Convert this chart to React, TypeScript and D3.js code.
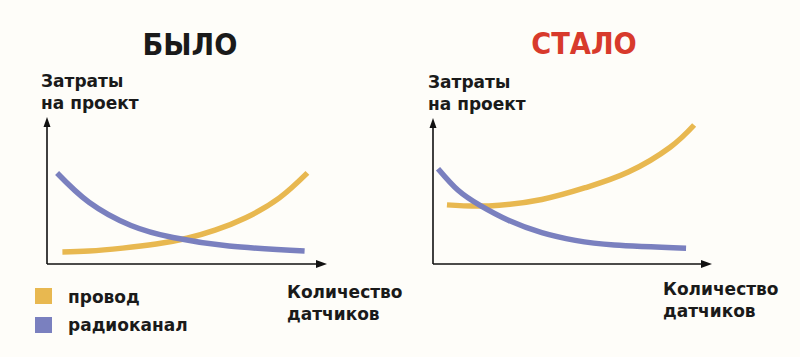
import React from "react";
import * as d3 from "d3";

// ---- data (arbitrary units, x: sensors count 0..10, y: project cost 0..10) ----
const panels = ["БЫЛО", "СТАЛО"];
const titleColors = ["#1a1a1a", "#d83a2c"];
const seriesNames = ["провод", "радиоканал"];
const seriesColors = ["#e8b850", "#7a80bf"];

// "БЫЛО" panel
const beforeWireX = [0.55, 1.5, 2.7, 3.9, 5, 6, 7.1, 8.3, 9.3];
const beforeWireY = [0.82, 0.88, 1.08, 1.36, 1.75, 2.3, 3.15, 4.5, 6.2];
const beforeRadioX = [0.36, 1.5, 3, 4.5, 6.5, 9.2];
const beforeRadioY = [6.19, 4.2, 2.62, 1.8, 1.22, 0.88];

// "СТАЛО" panel
const afterWireX = [0.5, 2.0, 3.9, 5.5, 7.0, 8.5, 9.36];
const afterWireY = [4.05, 3.98, 4.42, 5.25, 6.3, 8.0, 9.52];
const afterRadioX = [0.18, 0.9, 1.7, 2.7, 3.9, 5.1, 6.5, 9.07];
const afterRadioY = [6.53, 5.05, 4.0, 3.0, 2.15, 1.62, 1.3, 1.08];

const yAxisLabel = ["Затраты", "на проект"];
const xAxisLabel = ["Количество", "датчиков"];

const FONT = "'DejaVu Sans', Verdana, sans-serif";

type Pt = [number, number];
const zip = (xs: number[], ys: number[]): Pt[] => xs.map((x, i) => [x, ys[i]]);

const panelData: Pt[][][] = [
  [zip(beforeWireX, beforeWireY), zip(beforeRadioX, beforeRadioY)],
  [zip(afterWireX, afterWireY), zip(afterRadioX, afterRadioY)],
];

const layout = [
  { x0: 47, x1: 327, y0: 264, y1: 117, titleX: 190, titleY: 55, ylabX: 41, ylabY: 87, xlabX: 287, xlabY: 298 },
  { x0: 433, x1: 712, y0: 264, y1: 118, titleX: 584, titleY: 54, ylabX: 428, ylabY: 88, xlabX: 663, xlabY: 295 },
];

function Panel({ idx }: { idx: number }) {
  const L = layout[idx];
  const x = d3.scaleLinear().domain([0, 10]).range([L.x0, L.x1]);
  const y = d3.scaleLinear().domain([0, 10]).range([L.y0, L.y1]);
  const line = d3
    .line<Pt>()
    .x((d) => x(d[0]))
    .y((d) => y(d[1]))
    .curve(d3.curveNatural);
  const [xa, xb] = x.range();
  const [ya, yb] = y.range();
  return (
    <g>
      <g transform={`translate(${L.titleX},${L.titleY}) scale(0.88,1)`}>
        <text x={0} y={0} textAnchor="middle" fontFamily={FONT} fontWeight="bold" fontSize={31} fill={titleColors[idx]}>
          {panels[idx]}
        </text>
      </g>
      {yAxisLabel.map((t, i) => (
        <text key={t} x={L.ylabX} y={L.ylabY + i * 22} fontFamily={FONT} fontWeight="bold" fontSize={17} fill="#1a1a1a">
          {t}
        </text>
      ))}
      {xAxisLabel.map((t, i) => (
        <text key={t} x={L.xlabX} y={L.xlabY + i * 22} fontFamily={FONT} fontWeight="bold" fontSize={17} fill="#1a1a1a">
          {t}
        </text>
      ))}
      {panelData[idx].map((pts, s) => (
        <path key={s} d={line(pts) || ""} fill="none" stroke={seriesColors[s]} strokeWidth={5.5} strokeLinecap="butt" />
      ))}
      <line x1={xa} y1={ya} x2={xa} y2={yb + 8} stroke="#111" strokeWidth={1.6} />
      <line x1={xa} y1={ya} x2={xb - 8} y2={ya} stroke="#111" strokeWidth={1.6} />
      <path d={`M${xa},${yb} L${xa - 3.5},${yb + 10} L${xa + 3.5},${yb + 10} Z`} fill="#111" />
      <path d={`M${xb},${ya} L${xb - 11},${ya - 4} L${xb - 11},${ya + 4} Z`} fill="#111" />
    </g>
  );
}

export default function App() {
  return (
    <svg width={800} height={357} style={{ position: "absolute", left: 0, top: 0, background: "#fefdf9" }}>
      <rect width={800} height={357} fill="#fefdf9" />
      <Panel idx={0} />
      <Panel idx={1} />
      {seriesNames.map((n, i) => (
        <g key={n}>
          <rect x={35} y={288 + i * 29} width={17} height={16} fill={seriesColors[i]} />
          <text x={68} y={303 + i * 28} fontFamily={FONT} fontWeight="bold" fontSize={17} fill="#1a1a1a">
            {n}
          </text>
        </g>
      ))}
    </svg>
  );
}
